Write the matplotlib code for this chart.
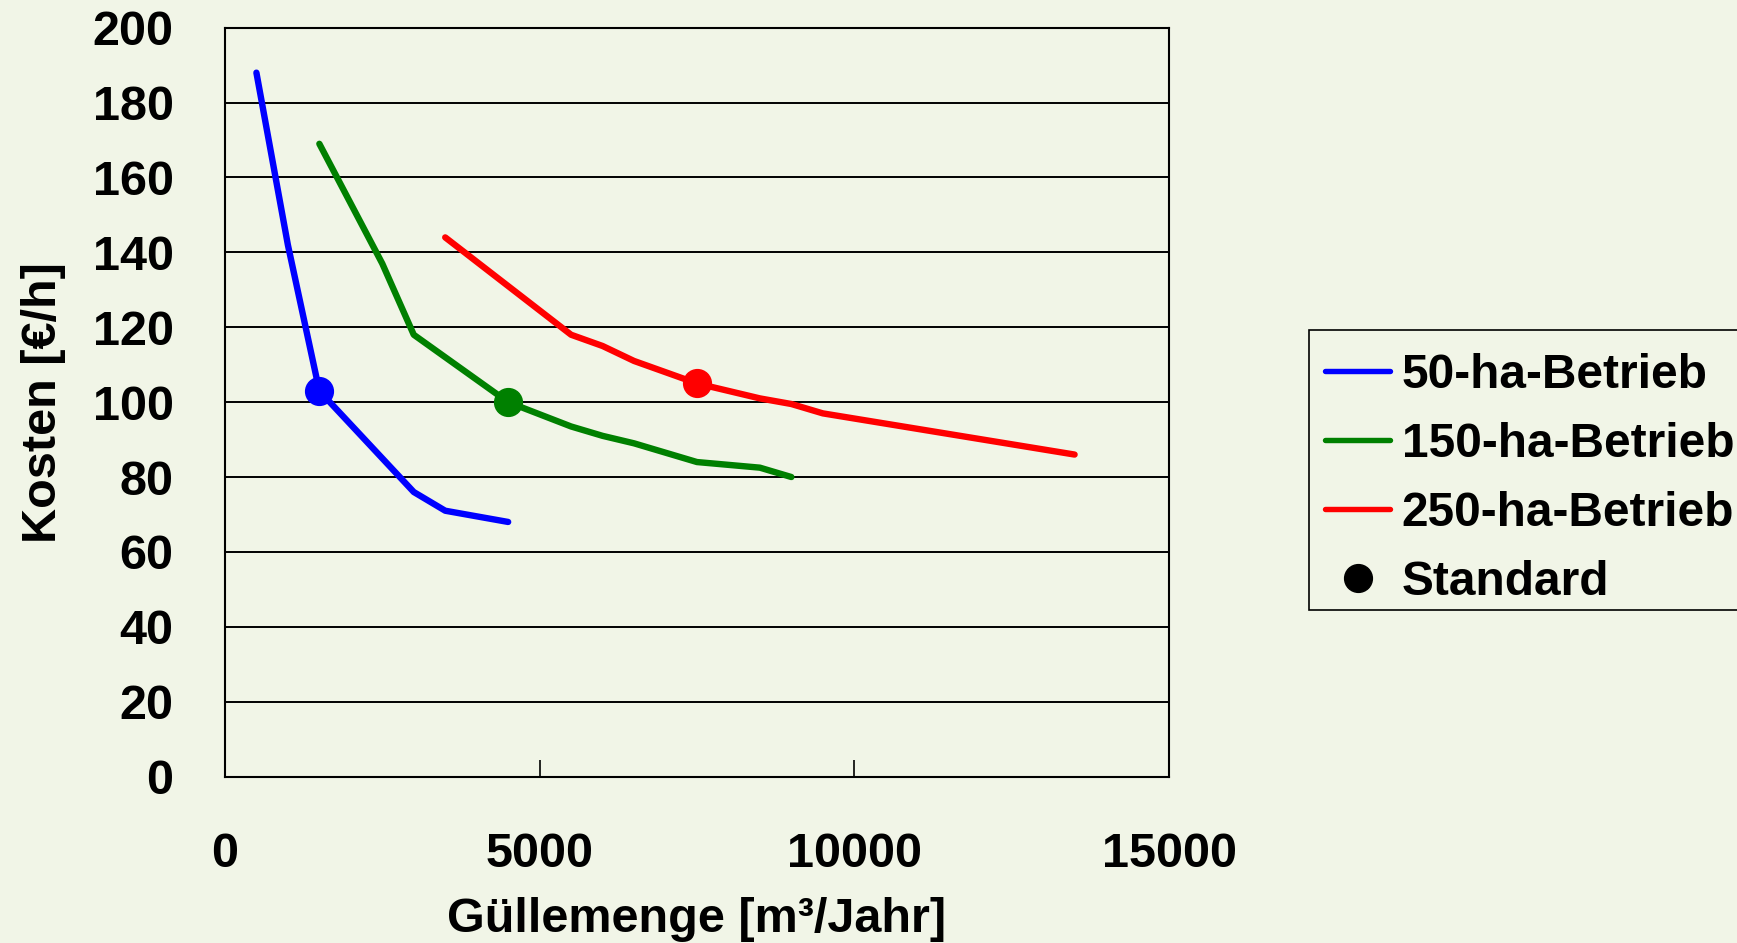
import matplotlib
matplotlib.use("Agg")
import matplotlib.pyplot as plt
from matplotlib.lines import Line2D
from matplotlib.patches import Rectangle

# Daten
x_50 = [500, 1000, 1500, 3000, 3500, 4500]
y_50 = [188, 142, 103, 76, 71, 68]

x_150 = [1500, 2500, 3000, 4500, 5500, 6000, 6500, 7500, 8500, 9000]
y_150 = [169, 137, 118, 100, 93.5, 91, 89, 84, 82.5, 80]

x_250 = [3500, 4500, 5500, 6000, 6500, 7500, 8500, 9000, 9500, 11500, 13500]
y_250 = [144, 131, 118, 115, 111, 105, 101, 99.5, 97, 91.5, 86]

std_x = [1500, 4500, 7500]
std_y = [103, 100, 105]

labels = ["50-ha-Betrieb", "150-ha-Betrieb", "250-ha-Betrieb", "Standard"]
colors = ["#0000FF", "#008000", "#FF0000"]
x_ticks = [0, 5000, 10000, 15000]
y_ticks = list(range(0, 201, 20))

bg = "#F1F5E7"
fs = 35
W, H = 1737, 943

plt.rcParams['font.family'] = ['Liberation Sans', 'DejaVu Sans']
plt.rcParams['font.weight'] = 'bold'

fig = plt.figure(figsize=(W / 100, H / 100), dpi=100, facecolor=bg)
ax = fig.add_axes([0.1295, 0.1765, 0.5435, 0.7941], facecolor=bg)

series = [(x_50, y_50), (x_150, y_150), (x_250, y_250)]
for (xs, ys), c in zip(series, colors):
    ax.plot(xs, ys, color=c, lw=4.6, solid_capstyle='round',
            solid_joinstyle='round', zorder=3)
for xv, yv, c in zip(std_x, std_y, colors):
    ax.plot(xv, yv, 'o', color=c, markersize=20, zorder=4)

ax.set_xlim(0, 15000)
ax.set_ylim(0, 200)
ax.set_xticks(x_ticks)
ax.set_yticks(y_ticks)
ax.set_xticklabels([str(v) for v in x_ticks], fontsize=fs, fontweight='bold')
ax.set_yticklabels([str(v) for v in y_ticks], fontsize=fs, fontweight='bold')
ax.tick_params(axis='x', direction='in', length=12, width=1.2, pad=40)
ax.tick_params(axis='y', direction='in', length=0, pad=37)

ax.yaxis.grid(True, color='black', lw=1.4, zorder=1)
ax.set_axisbelow(True)
for s in ax.spines.values():
    s.set_color('black')
    s.set_linewidth(1.5)

ax.set_xlabel("Güllemenge [m³/Jahr]", fontsize=fs, fontweight='bold', labelpad=14)
ax.set_ylabel("Kosten [€/h]", fontsize=fs, fontweight='bold', labelpad=19)

# Legendenrahmen (läuft rechts über den Bildrand hinaus)
fig.patches.append(Rectangle((1309 / W, 1 - 610 / H), 0.3, 280 / H,
                             transform=fig.transFigure, facecolor=bg,
                             edgecolor='black', lw=1.2, zorder=0))

handles = [Line2D([], [], color=c, lw=3.9, solid_capstyle='round') for c in colors]
handles.append(Line2D([], [], marker='o', color='black', linestyle='none', markersize=20))
leg = fig.legend(handles, labels, loc='upper left',
                 bbox_to_anchor=(1325 / W, 1 - 353 / H),
                 prop={'size': 34.5, 'weight': 'bold'},
                 handlelength=1.36, handletextpad=0.24, labelspacing=0.5,
                 borderpad=0, borderaxespad=0, frameon=False)

fig.savefig("out.png", dpi=100, facecolor=bg)
